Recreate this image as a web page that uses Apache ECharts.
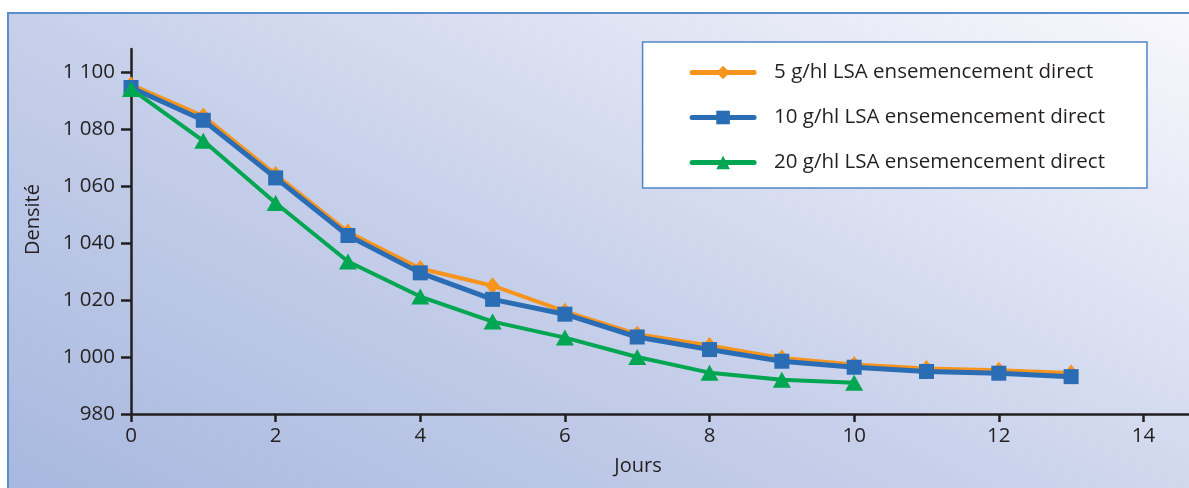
<!DOCTYPE html>
<html>
<head>
<meta charset="utf-8">
<script src="https://cdn.jsdelivr.net/npm/echarts@6/dist/echarts.min.js"></script>
<style>
html,body{margin:0;padding:0;background:#fff;}
#chart{width:1189px;height:488px;}
</style>
</head>
<body>
<div id="chart"></div>
<script>
const days = [0,1,2,3,4,5,6,7,8,9,10,11,12,13];
const seriesNames = ['5 g/hl LSA ensemencement direct','10 g/hl LSA ensemencement direct','20 g/hl LSA ensemencement direct'];
const lsa5  = [1095.5,1084.5,1064,1043.8,1031,1025,1016,1008,1004,999.6,997.4,996,995.3,994.4];
const lsa10 = [1094.5,1083,1062.8,1042.6,1029.5,1020.2,1015,1007,1002.6,998.5,996.4,994.9,994.3,993.1];
const lsa20 = [1094,1075.8,1054,1033.5,1021.2,1012.4,1006.8,1000,994.5,992,991];
const xTicks = [0,2,4,6,8,10,12,14];
const yTicks = [980,1000,1020,1040,1060,1080,1100];

const textColor = '#231f20';
const font = 'Open Sans';
const pair = (arr) => arr.map((v,i)=>[days[i], v]);

const chart = echarts.init(document.getElementById('chart'));
chart.setOption({
  animation:false,
  backgroundColor:'#ffffff',
  graphic:[
    {type:'rect', z:-10, shape:{x:7,y:12,width:1182,height:476},
     style:{fill:{type:'linear',global:true,x:7,y:488,x2:434,y2:-366,colorStops:[
       {offset:0,color:'#a7b8de'},{offset:0.45,color:'#c7d0ea'},{offset:1,color:'#f8f8fc'}]}}},
    {type:'line', z:-9, shape:{x1:8,y1:12,x2:8,y2:488}, style:{stroke:'#5b8ccb',lineWidth:2}},
    {type:'line', z:-9, shape:{x1:7,y1:13,x2:1189,y2:13}, style:{stroke:'#5b8ccb',lineWidth:2}}
  ],
  grid:{left:131,right:0,top:49,bottom:74,containLabel:false},
  legend:{
    right:42, top:42, orient:'vertical',
    backgroundColor:'#ffffff', borderColor:'#4f86c6', borderWidth:1.5,
    padding:[20,42,15,47], itemGap:24, itemWidth:62, itemHeight:17,
    lineStyle:{width:5, cap:'round'},
    textStyle:{fontFamily:font,fontSize:20.5,lineHeight:20,color:textColor,padding:[0,0,0,15]},
    data:seriesNames
  },
  xAxis:{
    type:'value', min:0, max:14.63,
    name:'Jours', nameLocation:'middle', nameGap:42,
    nameTextStyle:{fontFamily:font,fontSize:20,color:textColor,padding:[0,44,0,0]},
    axisLine:{lineStyle:{color:textColor,width:2.5}},
    axisTick:{show:true,length:8,lineStyle:{color:textColor,width:2.5},customValues:xTicks},
    axisLabel:{fontFamily:font,fontSize:20.5,color:textColor,margin:12,customValues:xTicks},
    splitLine:{show:false}
  },
  yAxis:{
    type:'value', min:980, max:1108,
    name:'Densité', nameLocation:'middle', nameGap:88, nameRotate:90,
    nameTextStyle:{fontFamily:font,fontSize:20,color:textColor,padding:[0,0,0,24]},
    axisLine:{show:true,lineStyle:{color:textColor,width:2.5}},
    axisTick:{show:true,length:10,lineStyle:{color:textColor,width:2.5},customValues:yTicks},
    axisLabel:{fontFamily:font,fontSize:20.5,color:textColor,margin:16,customValues:yTicks,
      formatter:(v)=>{const s=String(Math.round(v));return s.length>3?s.slice(0,-3)+' '+s.slice(-3):s;}},
    splitLine:{show:false}
  },
  series:[
    {name:seriesNames[0],type:'line',data:pair(lsa5),symbol:'diamond',symbolSize:[14,17],
     lineStyle:{color:'#f7941d',width:4},itemStyle:{color:'#f7941d'},z:2},
    {name:seriesNames[1],type:'line',data:pair(lsa10),symbol:'rect',symbolSize:15,
     lineStyle:{color:'#2b6db5',width:5},itemStyle:{color:'#2b6db5'},z:3},
    {name:seriesNames[2],type:'line',data:pair(lsa20),symbol:'triangle',symbolSize:[18,16],
     lineStyle:{color:'#00a651',width:4},itemStyle:{color:'#00a651'},z:4}
  ]
});
</script>
</body>
</html>
